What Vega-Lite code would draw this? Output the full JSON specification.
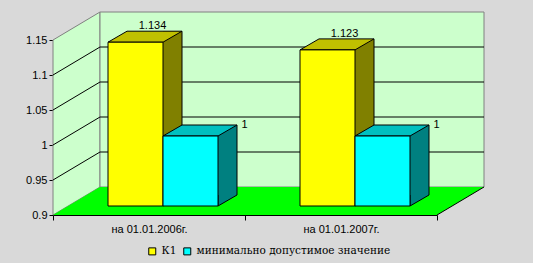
{
  "$schema": "https://vega.github.io/schema/vega-lite/v6.json",
  "width": 384,
  "height": 175,
  "autosize": {"type": "none"},
  "padding": {"left": 53, "top": 40, "right": 96, "bottom": 48},
  "background": "#d9d9d9",
  "config": {
    "view": {"stroke": null},
    "axis": {"labelFont": "Liberation Sans", "labelFontSize": 11, "labelColor": "#000000", "domainColor": "#000000", "tickColor": "#000000", "grid": false, "zindex": 1},
    "legend": {"labelFont": "DejaVu Serif", "labelFontSize": 10.5, "labelColor": "#000000", "labelLimit": 400}
  },
  "datasets": {
    "bars": [
      {"date": "на 01.01.2006г.", "series": "К1", "value": 1.134},
      {"date": "на 01.01.2006г.", "series": "минимально допустимое значение", "value": 1},
      {"date": "на 01.01.2007г.", "series": "К1", "value": 1.123},
      {"date": "на 01.01.2007г.", "series": "минимально допустимое значение", "value": 1}
    ],
    "grid": [{"value": 0.95}, {"value": 1}, {"value": 1.05}, {"value": 1.1}],
    "frame": [{"value": 0.9}]
  },
  "encoding": {
    "x": {"field": "date", "type": "nominal", "title": null,
      "scale": {"domain": ["на 01.01.2006г.", "на 01.01.2007г."], "paddingInner": 0, "paddingOuter": 0},
      "axis": {"labelAngle": 0, "tickBand": "extent", "tickSize": 5, "labelPadding": 3, "title": null}},
    "y": {"field": "value", "type": "quantitative", "title": null,
      "scale": {"domain": [0.9, 1.15], "nice": false, "zero": false},
      "axis": {"values": [0.9, 0.95, 1, 1.05, 1.1, 1.15], "format": ".2~f", "tickSize": 4, "labelPadding": 2, "title": null}}
  },
  "layer": [
    {"data": {"name": "frame"},
     "mark": {"type": "point", "shape": "M-96,0L-96,-175L-49,-203L-49,-28Z", "size": 4, "filled": true, "fill": "#ccffcc", "fillOpacity": 1, "stroke": "#808080", "strokeWidth": 1, "opacity": 1},
     "encoding": {"x": {"datum": "на 01.01.2006г."}}},
    {"data": {"name": "frame"},
     "mark": {"type": "point", "shape": "M-49,-28L-49,-203L335,-203L335,-28Z", "size": 4, "filled": true, "fill": "#ccffcc", "fillOpacity": 1, "stroke": "#808080", "strokeWidth": 1, "opacity": 1},
     "encoding": {"x": {"datum": "на 01.01.2006г."}}},
    {"data": {"name": "frame"},
     "mark": {"type": "point", "shape": "M-96,0L288,0L335,-28L-49,-28Z", "size": 4, "filled": true, "fill": "#00ff00", "fillOpacity": 1, "strokeWidth": 0, "opacity": 1},
     "encoding": {"x": {"datum": "на 01.01.2006г."}}},
    {"data": {"name": "frame"},
     "mark": {"type": "point", "shape": "M288,0L335,-28", "size": 4, "filled": false, "stroke": "#000000", "strokeWidth": 1, "opacity": 1},
     "encoding": {"x": {"datum": "на 01.01.2006г."}}},
    {"data": {"name": "grid"},
     "mark": {"type": "point", "shape": "M-96,0L-49,-28L335,-28", "size": 4, "filled": false, "stroke": "#000000", "strokeWidth": 1, "opacity": 1},
     "encoding": {"x": {"datum": "на 01.01.2006г."}}},

    {"data": {"name": "bars"}, "transform": [{"filter": {"field": "series", "equal": "К1"}}],
     "mark": {"type": "bar", "width": 19, "xOffset": 23.5, "yOffset": -20, "y2Offset": -20, "fill": "#808000", "strokeWidth": 0},
     "encoding": {"y2": {"datum": 0.9}}},
    {"data": {"name": "bars"}, "transform": [{"filter": {"field": "series", "equal": "К1"}}],
     "mark": {"type": "point", "shape": "M19,-11L0,0L0,-11", "size": 4, "filled": true, "fill": "#808000", "fillOpacity": 1, "stroke": "#000000", "strokeWidth": 1, "opacity": 1, "xOffset": 14, "yOffset": -9},
     "encoding": {"y": {"datum": 0.9}}},
    {"data": {"name": "bars"}, "transform": [{"filter": {"field": "series", "equal": "К1"}}],
     "mark": {"type": "rule", "stroke": "#000000", "strokeWidth": 1, "xOffset": 33, "yOffset": -20, "y2Offset": -20},
     "encoding": {"y2": {"datum": 0.9}}},
    {"data": {"name": "bars"}, "transform": [{"filter": {"field": "series", "equal": "К1"}}],
     "mark": {"type": "point", "shape": "M-27.5,0L27.5,0L46.5,-11L-8.5,-11Z", "size": 4, "filled": true, "fill": "#c0c000", "fillOpacity": 1, "stroke": "#000000", "strokeWidth": 1, "opacity": 1, "xOffset": -13.5, "yOffset": -9}},
    {"data": {"name": "bars"}, "transform": [{"filter": {"field": "series", "equal": "К1"}}],
     "mark": {"type": "bar", "width": 55, "xOffset": -13.5, "yOffset": -9, "y2Offset": -9, "stroke": "#000000", "strokeWidth": 1},
     "encoding": {"y2": {"datum": 0.9},
       "fill": {"field": "series", "type": "nominal",
         "scale": {"domain": ["К1", "минимально допустимое значение"], "range": ["#ffff00", "#00ffff"]},
         "legend": {"title": null, "orient": "none", "legendX": 94, "legendY": 206, "direction": "horizontal", "symbolType": "square", "symbolSize": 49, "symbolStrokeColor": "#000000", "symbolStrokeWidth": 1, "symbolOpacity": 1, "labelOffset": 4, "columnPadding": 4, "labelLimit": 400}}}},

    {"data": {"name": "bars"}, "transform": [{"filter": {"field": "series", "equal": "минимально допустимое значение"}}],
     "mark": {"type": "bar", "width": 19, "xOffset": 78.5, "yOffset": -20, "y2Offset": -20, "fill": "#008080", "strokeWidth": 0},
     "encoding": {"y2": {"datum": 0.9}}},
    {"data": {"name": "bars"}, "transform": [{"filter": {"field": "series", "equal": "минимально допустимое значение"}}],
     "mark": {"type": "point", "shape": "M19,-11L0,0L0,-11", "size": 4, "filled": true, "fill": "#008080", "fillOpacity": 1, "stroke": "#000000", "strokeWidth": 1, "opacity": 1, "xOffset": 69, "yOffset": -9},
     "encoding": {"y": {"datum": 0.9}}},
    {"data": {"name": "bars"}, "transform": [{"filter": {"field": "series", "equal": "минимально допустимое значение"}}],
     "mark": {"type": "rule", "stroke": "#000000", "strokeWidth": 1, "xOffset": 88, "yOffset": -20, "y2Offset": -20},
     "encoding": {"y2": {"datum": 0.9}}},
    {"data": {"name": "bars"}, "transform": [{"filter": {"field": "series", "equal": "минимально допустимое значение"}}],
     "mark": {"type": "point", "shape": "M-27.5,0L27.5,0L46.5,-11L-8.5,-11Z", "size": 4, "filled": true, "fill": "#00c0c0", "fillOpacity": 1, "stroke": "#000000", "strokeWidth": 1, "opacity": 1, "xOffset": 41.5, "yOffset": -9}},
    {"data": {"name": "bars"}, "transform": [{"filter": {"field": "series", "equal": "минимально допустимое значение"}}],
     "mark": {"type": "bar", "width": 55, "xOffset": 41.5, "yOffset": -9, "y2Offset": -9, "stroke": "#000000", "strokeWidth": 1},
     "encoding": {"y2": {"datum": 0.9},
       "fill": {"field": "series", "type": "nominal",
         "scale": {"domain": ["К1", "минимально допустимое значение"], "range": ["#ffff00", "#00ffff"]},
         "legend": {"title": null, "orient": "none", "legendX": 94, "legendY": 206, "direction": "horizontal", "symbolType": "square", "symbolSize": 49, "symbolStrokeColor": "#000000", "symbolStrokeWidth": 1, "symbolOpacity": 1, "labelOffset": 4, "columnPadding": 4, "labelLimit": 400}}}},

    {"data": {"name": "bars"}, "transform": [{"filter": {"field": "series", "equal": "К1"}}],
     "mark": {"type": "text", "font": "Liberation Sans", "fontSize": 11, "color": "#000000", "align": "center", "baseline": "alphabetic", "xOffset": 3.5, "yOffset": -22},
     "encoding": {"text": {"field": "value", "type": "quantitative", "format": ".3~f"}}},
    {"data": {"name": "bars"}, "transform": [{"filter": {"field": "series", "equal": "минимально допустимое значение"}}],
     "mark": {"type": "text", "font": "Liberation Sans", "fontSize": 11, "color": "#000000", "align": "center", "baseline": "alphabetic", "xOffset": 95.5, "yOffset": -17},
     "encoding": {"text": {"field": "value", "type": "quantitative", "format": ".3~f"}}}
  ]
}
